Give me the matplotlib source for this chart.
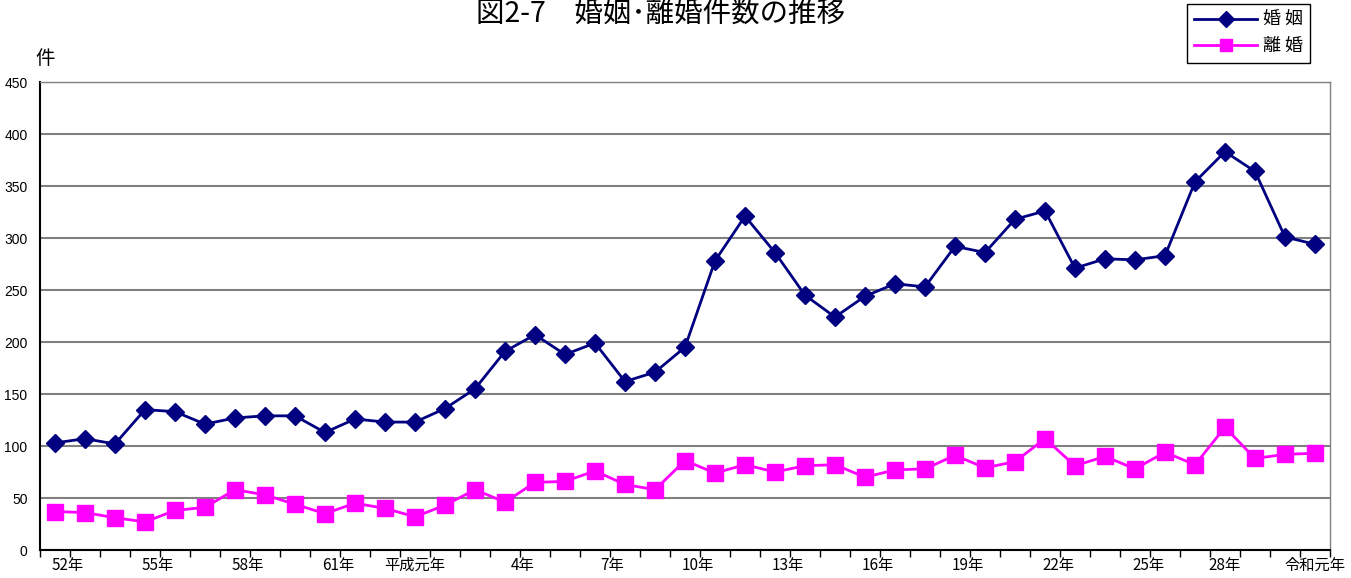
import numpy as np
import matplotlib
matplotlib.use("Agg")
import matplotlib.pyplot as plt

plt.rcParams['font.family'] = ['Noto Sans CJK JP', 'DejaVu Sans']

# 昭和52年 (1977) - 令和元年 (2019)
marriage = [103, 107, 102, 135, 133, 121, 127, 129, 129, 113,
            126, 123, 123, 136, 155, 191, 207, 188, 199, 162,
            171, 195, 278, 321, 286, 245, 224, 244, 256, 253,
            292, 286, 318, 326, 271, 280, 279, 283, 354, 383,
            364, 301, 294]
divorce = [37, 36, 31, 27, 38, 41, 58, 53, 44, 35,
           45, 40, 32, 43, 58, 46, 65, 66, 76, 63,
           58, 86, 74, 82, 75, 81, 82, 70, 77, 78,
           91, 79, 85, 107, 81, 90, 78, 94, 82, 118,
           88, 92, 93]
tick_index = [0, 3, 6, 9, 12, 15, 18, 21, 24, 27, 30, 33, 36, 39, 42]
tick_labels = ["52年", "55年", "58年", "61年", "平成元年", "4年", "7年", "10年",
               "13年", "16年", "19年", "22年", "25年", "28年", "令和元年"]
series_names = ["婚 姻", "離 婚"]

x = np.arange(len(marriage))

fig = plt.figure(figsize=(13.51, 5.78), dpi=100)
ax = fig.add_axes([40 / 1351, 28 / 578, 1290 / 1351, 468 / 578])

ax.plot(x, marriage, color="#000080", lw=2.0, marker="D", ms=9.5,
        label=series_names[0], zorder=3)
ax.plot(x, divorce, color="#FF00FF", lw=2.0, marker="s", ms=11,
        label=series_names[1], zorder=3)

ax.set_xlim(-0.5, len(marriage) - 0.5)
ax.set_ylim(0, 450)
ax.set_yticks(np.arange(0, 451, 50))
ax.yaxis.grid(True, color="#808080", lw=1.5)
ax.set_axisbelow(True)
ax.tick_params(axis="y", length=0, pad=9)
for t in ax.get_yticklabels():
    t.set_family("Liberation Sans")
    t.set_fontsize(10)

# tick marks between categories, labels placed separately
ax.set_xticks(np.arange(-0.5, len(marriage), 1.0), minor=True)
ax.tick_params(axis="x", which="minor", length=5, width=1, color="black", direction="out")
label_pos = []
for i, lab in zip(tick_index, tick_labels):
    if lab.endswith("元年") or lab == "28年":
        label_pos.append(i)
    else:
        label_pos.append(i + 0.97)
ax.set_xticks(label_pos, tick_labels)
ax.tick_params(axis="x", which="major", length=0, pad=5, labelsize=11)
for t, lab in zip(ax.get_xticklabels(), tick_labels):
    if lab.endswith("元年") or lab == "28年":
        t.set_horizontalalignment("center")
    else:
        t.set_horizontalalignment("right")

for side in ["top", "right"]:
    ax.spines[side].set_color("#808080")
    ax.spines[side].set_linewidth(1.0)
ax.spines["left"].set_color("black")
ax.spines["bottom"].set_color("black")
ax.spines["left"].set_linewidth(1.5)
ax.spines["bottom"].set_linewidth(1.5)

fig.text(661 / 1351, 1 - 14 / 578, "図2-7\u3000婚姻･離婚件数の推移",
         ha="center", va="center", fontsize=20.5)
fig.text(45 / 1351, 1 - 59 / 578, "件", ha="center", va="center", fontsize=14)

leg = fig.legend(loc="upper right", bbox_to_anchor=(1310 / 1351, 1 - 4 / 578),
                 fontsize=13, handlelength=3.5, fancybox=False, framealpha=1,
                 edgecolor="black", borderpad=0.4, labelspacing=0.45,
                 handletextpad=0.3, borderaxespad=0)
leg.get_frame().set_linewidth(1.0)
for h in leg.legend_handles:
    h.set_markersize(8)

fig.savefig("out.png", dpi=100)
